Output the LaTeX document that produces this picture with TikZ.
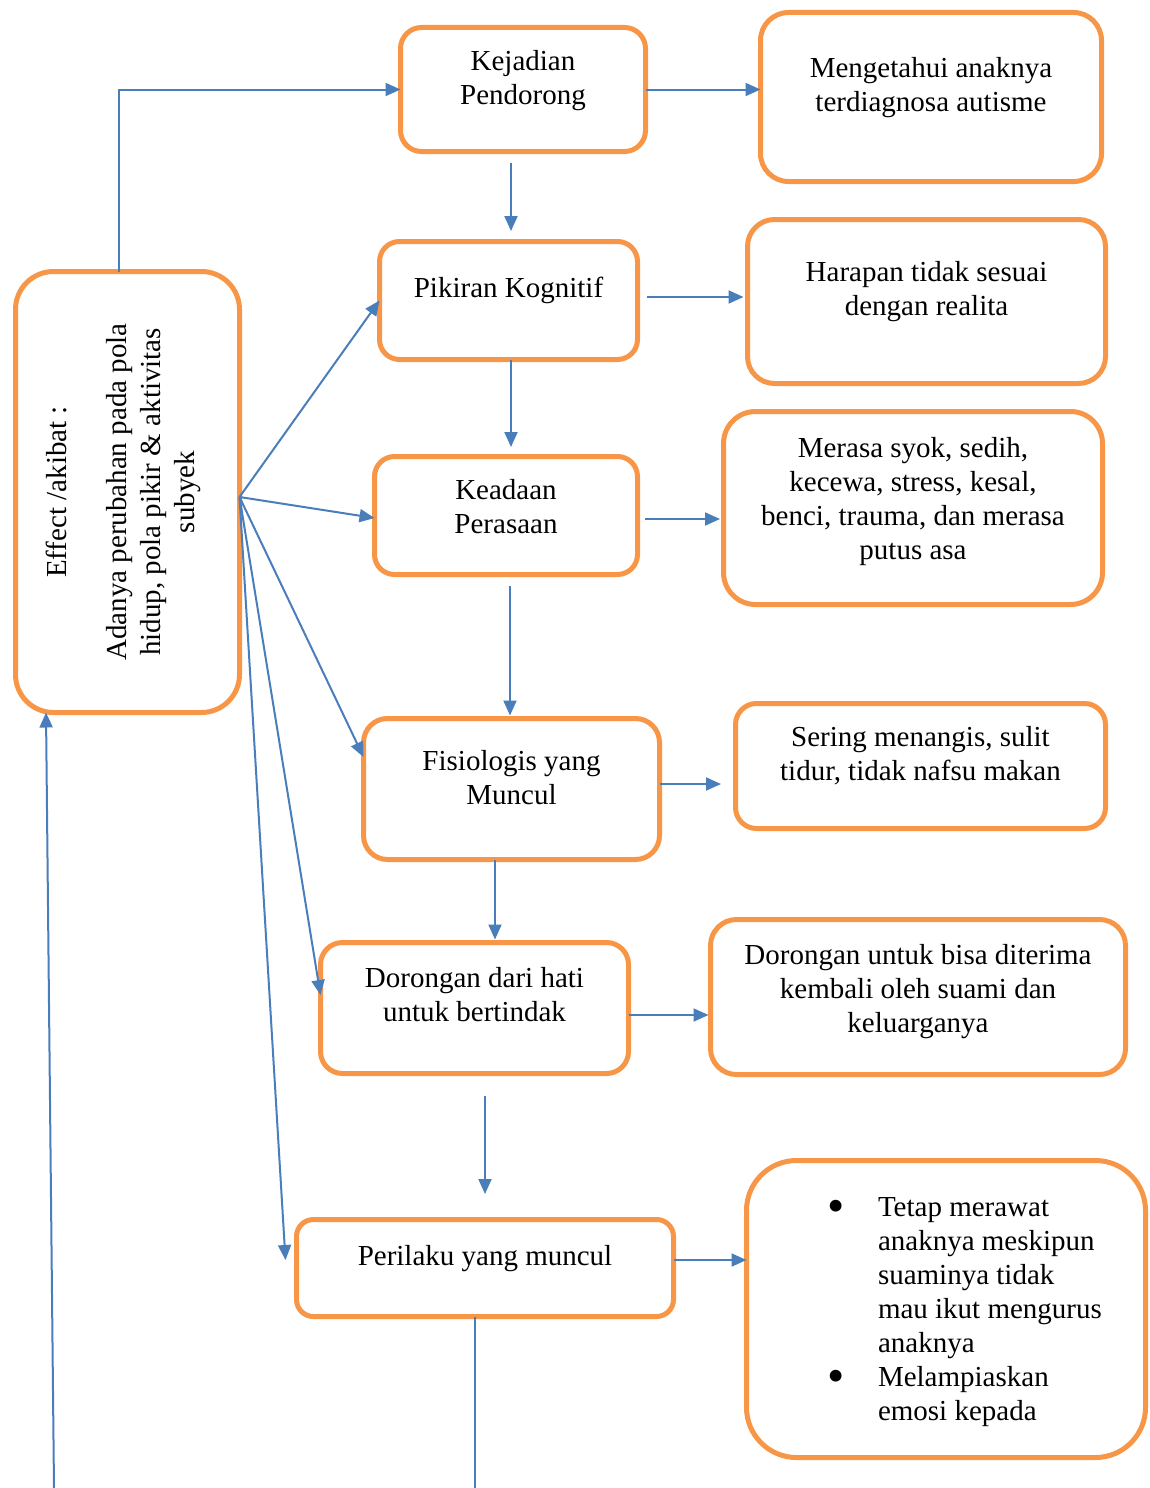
\documentclass[tikz,border=0pt]{standalone}
\usepackage{fontspec}
\usepackage{graphicx}
\setmainfont{Liberation Serif}
\usetikzlibrary{arrows.meta}
\definecolor{boxorange}{RGB}{247,150,70}
\definecolor{linkblue}{RGB}{74,126,187}
\newcommand\bxt[4]{\parbox[c][#2][t]{#1}{\centering\rule{0pt}{#3}#4}}
\newcommand\bigbul{\leavevmode\llap{\raisebox{-6pt}{\scalebox{1.7}{\textbullet}}\hspace{33pt}}}
\begin{document}
\begin{tikzpicture}[x=1pt,y=-1pt,
  box/.style={draw=boxorange, line width=5pt, inner sep=0pt, outer sep=0pt, font=\fontsize{29}{34}\selectfont},
  arr/.style={draw=linkblue, line width=2pt, -{Triangle[length=15pt,width=13pt]}},
  link/.style={draw=linkblue, line width=2pt}]
\useasboundingbox (0,0) rectangle (1149,1488);

\node[box, rounded corners=21pt] (kej) at (523,89.5) {\bxt{245pt}{124pt}{42.5pt}{Kejadian\\Pendorong}};
\node[box, rounded corners=28pt] (men) at (931,97) {\bxt{341pt}{169pt}{64.5pt}{Mengetahui anaknya\\terdiagnosa autisme}};
\node[box, rounded corners=20pt] (pik) at (508.5,300.5) {\bxt{258pt}{118pt}{55.5pt}{Pikiran Kognitif}};
\node[box, rounded corners=27pt] (har) at (926.5,301.5) {\bxt{358pt}{164pt}{61.5pt}{Harapan tidak sesuai\\dengan realita}};
\node[box, rounded corners=20pt] (kea) at (506,515.5) {\bxt{263pt}{118pt}{42.5pt}{Keadaan\\Perasaan}};
\node[box, rounded corners=32pt] (mer) at (913,508) {\bxt{379pt}{193pt}{45.5pt}{Merasa syok, sedih,\\kecewa, stress, kesal,\\benci, trauma, dan merasa\\putus asa}};
\node[box, rounded corners=24pt] (fis) at (511.5,789) {\bxt{296pt}{141pt}{51.5pt}{Fisiologis yang\\Muncul}};
\node[box, rounded corners=21pt] (ser) at (920.5,766) {\bxt{370pt}{125pt}{42.5pt}{Sering menangis, sulit\\tidur, tidak nafsu makan}};
\node[box, rounded corners=22pt] (dor) at (474.5,1008) {\bxt{308pt}{131pt}{44.5pt}{Dorongan dari hati\\untuk bertindak}};
\node[box, rounded corners=26pt] (dun) at (918,997) {\bxt{415pt}{155pt}{44.5pt}{Dorongan untuk bisa diterima\\kembali oleh suami dan\\keluarganya}};
\node[box, rounded corners=17pt] (per) at (485,1268) {\bxt{377pt}{97pt}{45.5pt}{Perilaku yang muncul}};
\node[box, rounded corners=50pt] (bul) at (946,1309) {\parbox[c][297pt][t]{399pt}{\raggedright\leftskip=131.5pt\rule{0pt}{55.5pt}\bigbul Tetap merawat\\anaknya meskipun\\suaminya tidak\\mau ikut mengurus\\anaknya\\\bigbul Melampiaskan\\emosi kepada}};
\node[box, rounded corners=38pt] (eff) at (127.5,492) {\rotatebox{90}{\bxt{441pt}{224pt}{51.5pt}{Effect /akibat :\\[26pt]Adanya perubahan pada pola\\hidup, pola pikir \& aktivitas\\subyek}}};

\coordinate (c119) at (119,0);
\coordinate (c511) at (511,0);
\coordinate (c510) at (510,0);
\coordinate (c495) at (495,0);
\coordinate (c485) at (485,0);
\coordinate (lb) at (54,1488);
\coordinate (pb) at (475,1488);
\coordinate (fan) at ([yshift=-5pt]eff.east);

\draw[arr] (eff.north -| c119) |- (kej.west);
\draw[arr] (kej.east) -- (kej.east -| men.west);
\draw[arr, shorten <=11.5pt, shorten >=10.5pt] (kej.south -| c511) -- (pik.north -| c511);
\draw[arr, shorten <=9.5pt, shorten >=4pt] ([yshift=3.5pt]pik.east) -- ([yshift=3.5pt]pik.east -| har.west);
\draw[arr, shorten >=9.5pt] (pik.south -| c511) -- (kea.north -| c511);
\draw[arr, shorten <=7.5pt, shorten >=3.5pt] ([yshift=-3.5pt]kea.east) -- ([yshift=-3.5pt]kea.east -| mer.west);
\draw[arr, shorten <=11.5pt, shorten >=3pt] (kea.south -| c510) -- (fis.north -| c510);
\draw[arr, shorten >=14.5pt] ([yshift=5pt]fis.east) -- ([yshift=5pt]fis.east -| ser.west);
\draw[arr, shorten >=3pt] (fis.south -| c495) -- (dor.north -| c495);
\draw[arr, shorten >=2pt] ([yshift=-7pt]dor.east) -- ([yshift=-7pt]dor.east -| dun.west);
\draw[arr, shorten <=22.5pt, shorten >=25.5pt] (dor.south -| c485) -- (per.north -| c485);
\draw[arr] ([yshift=8pt]per.east) -- ([yshift=8pt]per.east -| bul.west);
\draw[link] (per.south -| pb) -- (pb);
\draw[arr] (lb) -- ([xshift=-81.5pt]eff.south);

\draw[arr] (fan) -- (pik.west);
\draw[arr] (fan) -- ([yshift=-2.5pt]kea.west);
\draw[arr] (fan) -- ([yshift=32pt]fis.west);
\draw[arr] (fan) -- ([yshift=13pt]dor.west);
\draw[arr] (fan) -- ([xshift=-11pt,yshift=8pt]per.west);
\end{tikzpicture}
\end{document}
